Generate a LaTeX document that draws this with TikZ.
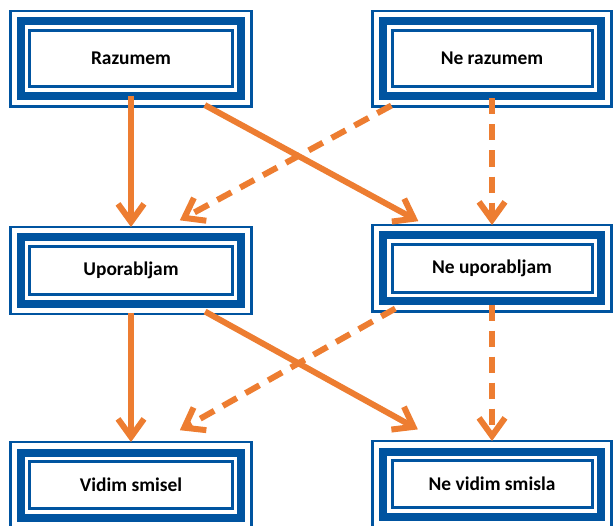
\documentclass[tikz,border=0pt]{standalone}
\usepackage{fontspec}
\setmainfont{Carlito}
\usetikzlibrary{arrows.meta,calc}
\definecolor{modra}{RGB}{0,84,160}
\definecolor{oranzna}{RGB}{237,125,49}
\tikzset{
  okvir/.style={draw=modra, line width=2.5bp, fill=white, minimum width=241bp,
    inner sep=0pt, outer sep=0pt, font=\fontsize{19.5}{23}\selectfont\bfseries},
  puscica/.style={draw=oranzna, line width=6bp,
    -{Straight Barb[length=18bp,width=26bp]}},
  crtkana/.style={puscica, dash pattern=on 16bp off 10bp},
}
\begin{document}
\begin{tikzpicture}[x=1bp,y=1bp]
  \useasboundingbox (0,0) rectangle (614,-526);
  % okvirji
  \node[okvir, minimum height=95.5bp] (raz) at (131,-58.75) {Razumem};
  \node[okvir, minimum height=95.5bp, minimum width=239bp] (nraz) at (492,-58.75) {Ne razumem};
  \node[okvir, minimum height=87bp] (upo) at (131,-270.5) {Uporabljam};
  \node[okvir, minimum height=86.5bp, minimum width=239bp] (nupo) at (492,-268.25) {Ne uporabljam};
  \node[okvir, minimum height=86bp] (vid) at (131,-485) {Vidim smisel};
  \node[okvir, minimum height=86bp, minimum width=239bp] (nvid) at (492,-484) {Ne vidim smisla};
  \foreach \n in {raz,nraz,upo,nupo,vid,nvid} {
    \draw[modra, line width=8bp] ($(\n.north west)+(10.5,-10.5)$) rectangle ($(\n.south east)+(-10.5,10.5)$);
    \draw[modra, line width=3bp] ($(\n.north west)+(19.5,-19.5)$) rectangle ($(\n.south east)+(-19.5,19.5)$);
  }
  % puscice
  \draw[puscica, shorten <=-10bp] (raz.south) -- (upo.north);
  \draw[puscica, shorten <=-3bp, shorten >=8bp] (raz.-32) -- (nupo.147);
  \draw[crtkana, shorten <=-2bp, shorten >=14bp] (nraz.205) -- (upo.50);
  \draw[crtkana, shorten <=-8bp] (nraz.south) -- (nupo.north);
  \draw[puscica, shorten <=-1bp] (upo.south) -- (vid.north);
  \draw[puscica, shorten <=-5bp, shorten >=24bp] (upo.-29) -- (nvid.141);
  \draw[crtkana, shorten <=-6bp, shorten >=24bp] (nupo.203) -- (vid.57);
  \draw[crtkana, shorten <=-7bp] (nupo.south) -- (nvid.north);
\end{tikzpicture}
\end{document}
